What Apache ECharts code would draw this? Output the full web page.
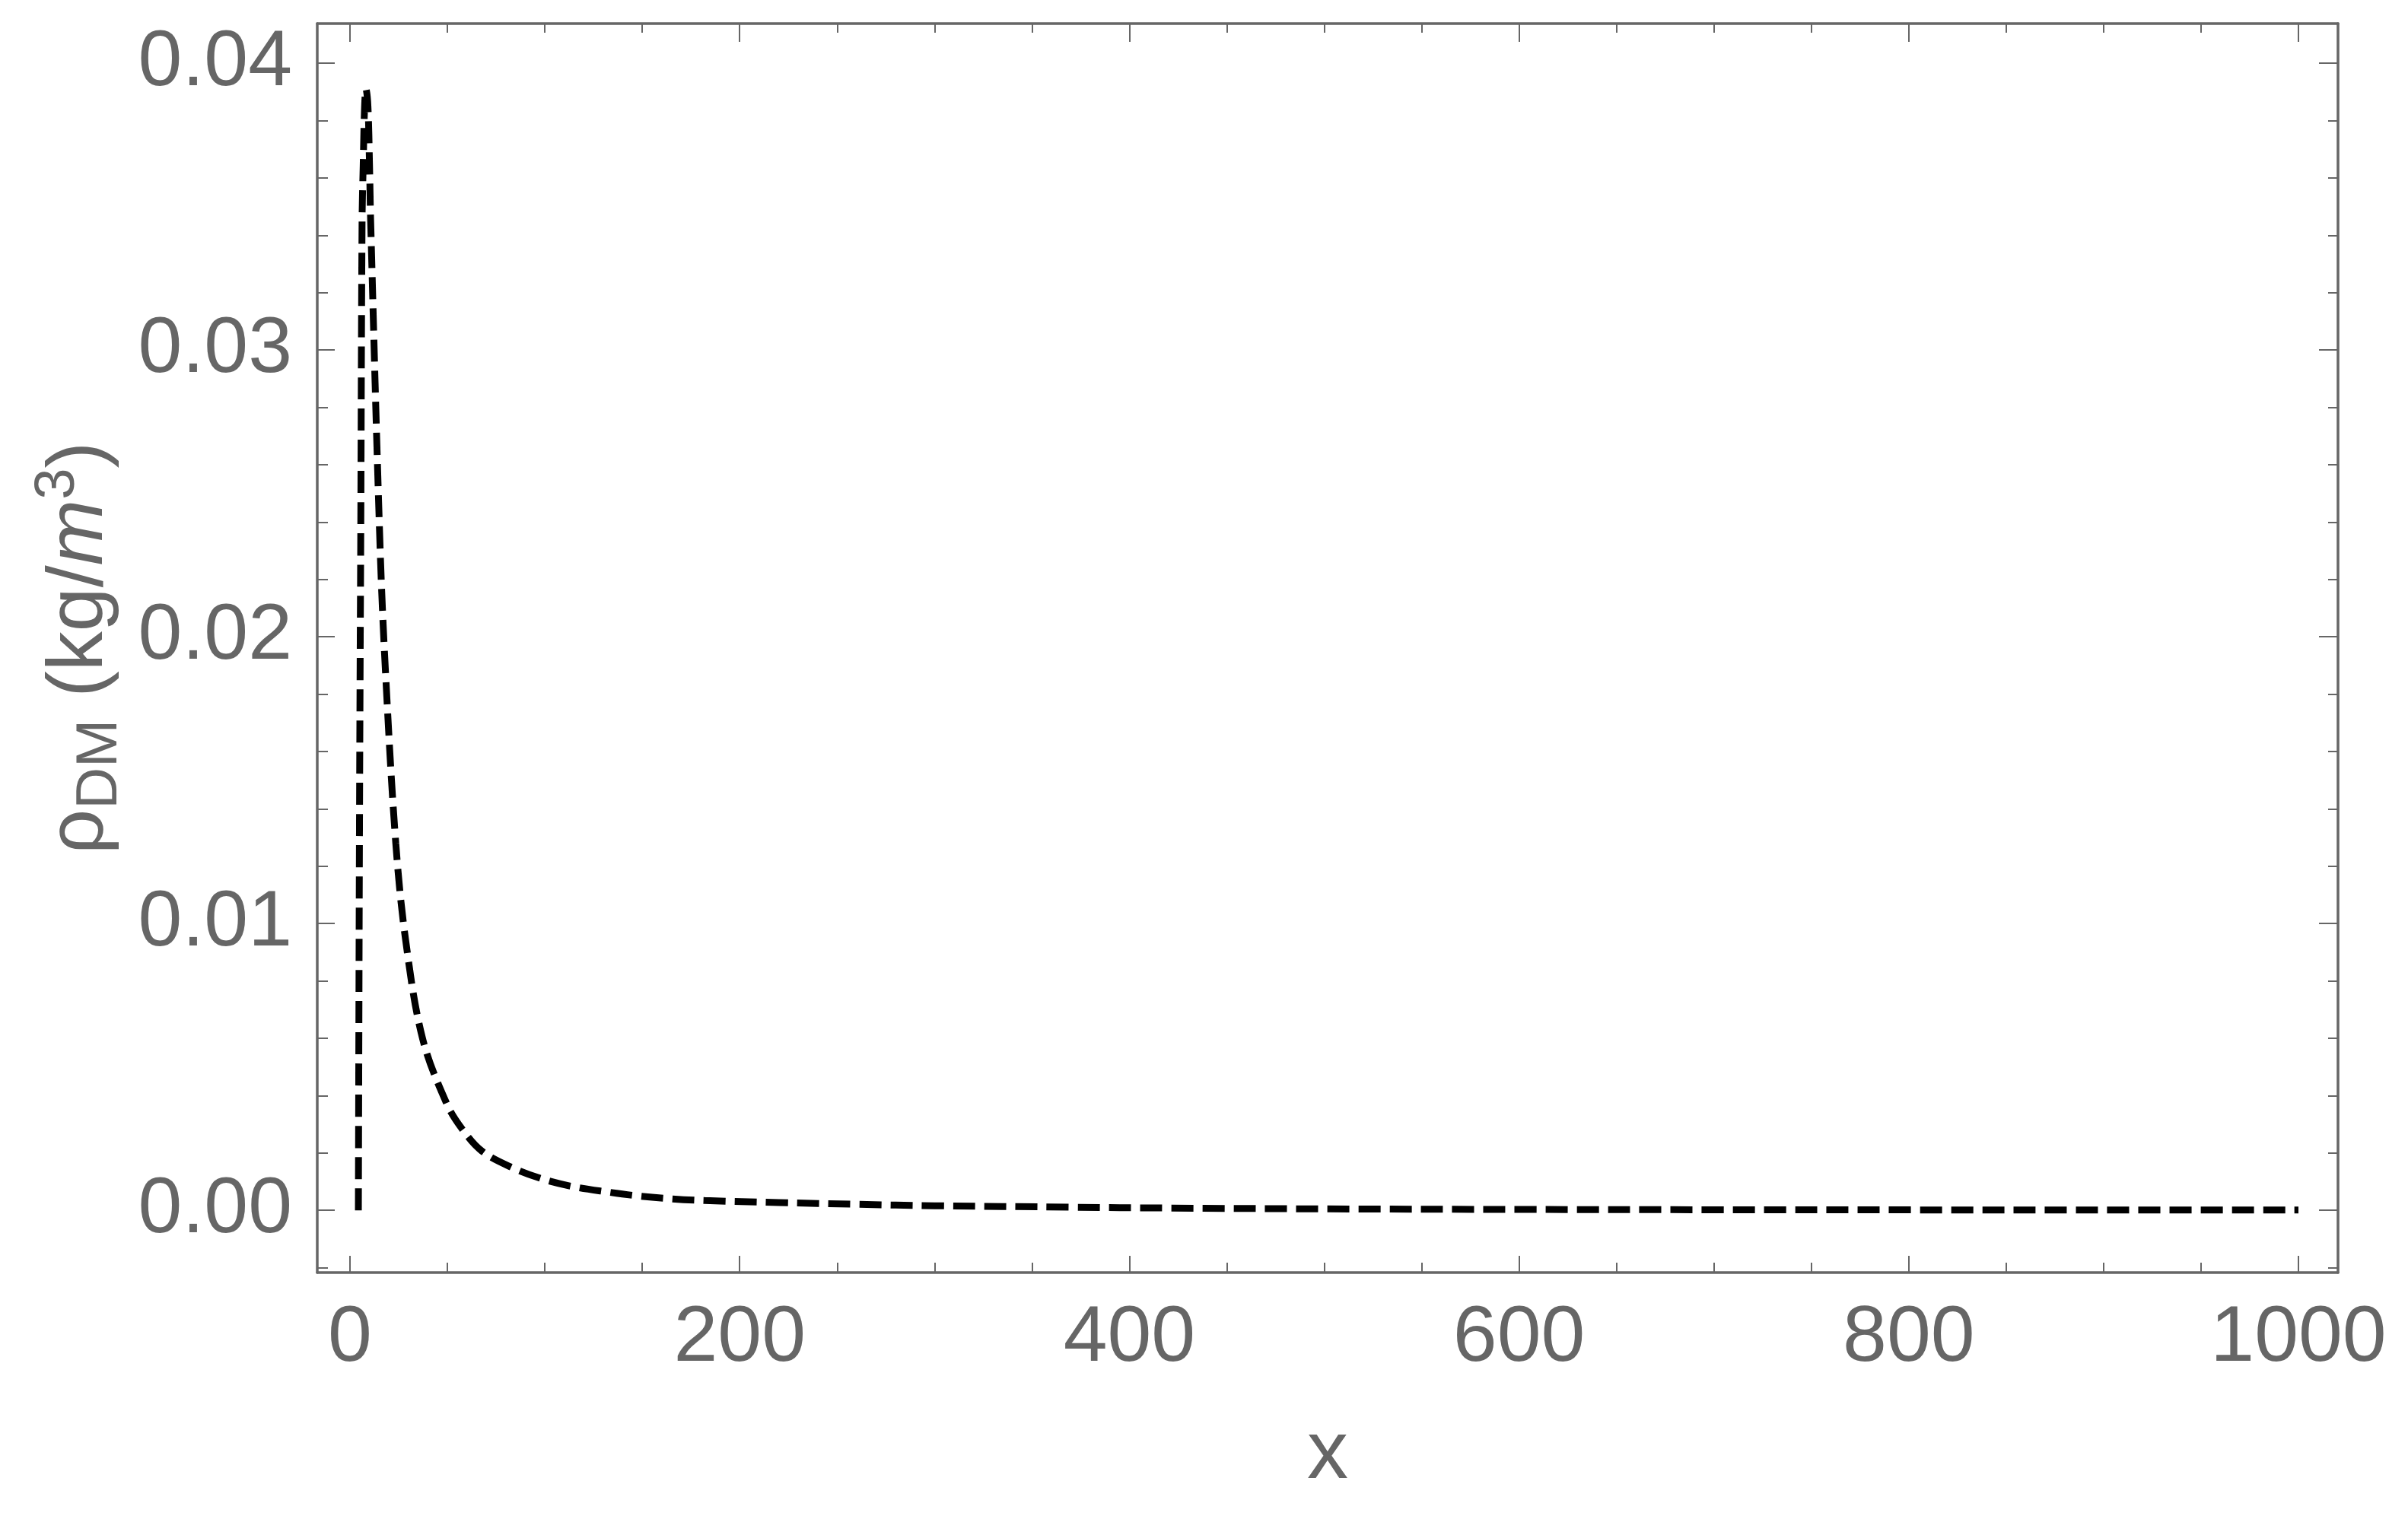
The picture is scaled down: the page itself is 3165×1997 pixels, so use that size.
<!DOCTYPE html>
<html>
<head>
<meta charset="utf-8">
<script src="https://cdn.jsdelivr.net/npm/echarts@6/dist/echarts.min.js"></script>
<style>
    html, body { margin: 0; padding: 0; background: #fff; }
    #main { width: 3165px; height: 1997px; }
</style>
</head>
<body>
<div id="main"></div>
<script>
// values
var xVals = [4.3, 4.5, 4.8, 5.2, 5.5, 6.2, 6.8, 7.5, 8.2, 9.2, 10.0, 10.6, 15.4, 18.2, 23.5, 28.6, 37.2,
    49.5, 57.3, 67.6, 83.2, 98.9, 115, 132, 148, 165, 182, 220, 260, 300, 370, 420, 500, 600, 700, 800, 900, 1000];
var rhoVals = [0, 0.005, 0.012, 0.019, 0.0232, 0.0345, 0.0365, 0.0385, 0.0391, 0.0385, 0.0365, 0.0345, 0.0232,
    0.0188, 0.0128, 0.0094, 0.0060, 0.00374, 0.00286, 0.00207, 0.00149, 0.00109, 0.00082, 0.00064, 0.00050,
    0.00040, 0.00034, 0.00027, 0.00021, 0.00016, 0.00011, 0.00008, 0.00005, 0.00003, 0.00002, 0.000015,
    0.00001, 0.00001];

var xMajor = [0, 200, 400, 600, 800, 1000];
var xMinor = [50, 100, 150, 250, 300, 350, 450, 500, 550, 650, 700, 750, 850, 900, 950];
var yMajor = [0, 0.01, 0.02, 0.03, 0.04];
var yMinor = [-0.002, 0.002, 0.004, 0.006, 0.008, 0.012, 0.014, 0.016, 0.018, 0.022, 0.024, 0.026, 0.028,
    0.032, 0.034, 0.036, 0.038];

var xMin = -16.8, xMax = 1020.3;
var yMin = -0.00217, yMax = 0.04138;

var grey = '#666666';
var font = 'Liberation Sans, Arial, sans-serif';

function xAxisOf(pos, ticks, len, withLine, withLabel) {
    return {
        type: 'value',
        position: pos,
        min: xMin,
        max: xMax,
        axisLine: { show: withLine, onZero: false, lineStyle: { color: grey, width: 3.5 } },
        axisTick: { show: true, inside: true, length: len, customValues: ticks, lineStyle: { color: grey, width: 2 } },
        axisLabel: withLabel ? {
            show: true, customValues: ticks, margin: 27, fontSize: 104, lineHeight: 120,
            color: grey, fontFamily: font,
            formatter: function (v) { return String(v); }
        } : { show: false },
        splitLine: { show: false }
    };
}

function yAxisOf(pos, ticks, len, withLine, withLabel) {
    return {
        type: 'value',
        position: pos,
        min: yMin,
        max: yMax,
        axisLine: { show: withLine, onZero: false, lineStyle: { color: grey, width: 3.5 } },
        axisTick: { show: true, inside: true, length: len, customValues: ticks, lineStyle: { color: grey, width: 2 } },
        axisLabel: withLabel ? {
            show: true, customValues: ticks, margin: 33, fontSize: 104, color: grey, fontFamily: font,
            formatter: function (v) { return v.toFixed(2); }
        } : { show: false },
        splitLine: { show: false }
    };
}

var myChart = echarts.init(document.getElementById('main'));

var xBottom = xAxisOf('bottom', xMajor, 22, true, true);
xBottom.name = 'x';
xBottom.nameLocation = 'middle';
xBottom.nameGap = 180;
xBottom.nameTextStyle = { fontSize: 108, lineHeight: 120, color: grey, fontFamily: font };

var yLeft = yAxisOf('left', yMajor, 23, true, true);
yLeft.name = '{a|ρ}{sub|DM}{a| (kg/}{it|m}{sup|3}{a|)}';
yLeft.nameLocation = 'middle';
yLeft.nameRotate = 90;
yLeft.nameGap = 247;
yLeft.nameTextStyle = {
    color: grey,
    fontFamily: font,
    rich: {
        a: { fontSize: 104, lineHeight: 130, color: grey, fontFamily: font },
        it: { fontSize: 104, lineHeight: 130, fontStyle: 'italic', color: grey, fontFamily: font },
        sub: { fontSize: 76, lineHeight: 71, verticalAlign: 'bottom', color: grey, fontFamily: font },
        sup: { fontSize: 74, lineHeight: 50, verticalAlign: 'top', color: grey, fontFamily: font }
    }
};

var option = {
    animation: false,
    backgroundColor: '#ffffff',
    grid: { left: 417, top: 31, right: 92, bottom: 324, containLabel: false },
    xAxis: [
        xBottom,
        xAxisOf('bottom', xMinor, 13, false, false),
        xAxisOf('top', xMajor, 24, true, false),
        xAxisOf('top', xMinor, 12, false, false)
    ],
    yAxis: [
        yLeft,
        yAxisOf('left', yMinor, 14, false, false),
        yAxisOf('right', yMajor, 25, true, false),
        yAxisOf('right', yMinor, 13, false, false)
    ],
    series: [
        {
            type: 'line',
            xAxisIndex: 0,
            yAxisIndex: 0,
            data: xVals.map(function (x, i) { return [x, rhoVals[i]]; }),
            showSymbol: false,
            smooth: 0.35,
            lineStyle: { color: '#000000', width: 9, type: [29, 12], cap: 'butt' }
        }
    ]
};
myChart.setOption(option);
</script>
</body>
</html>
